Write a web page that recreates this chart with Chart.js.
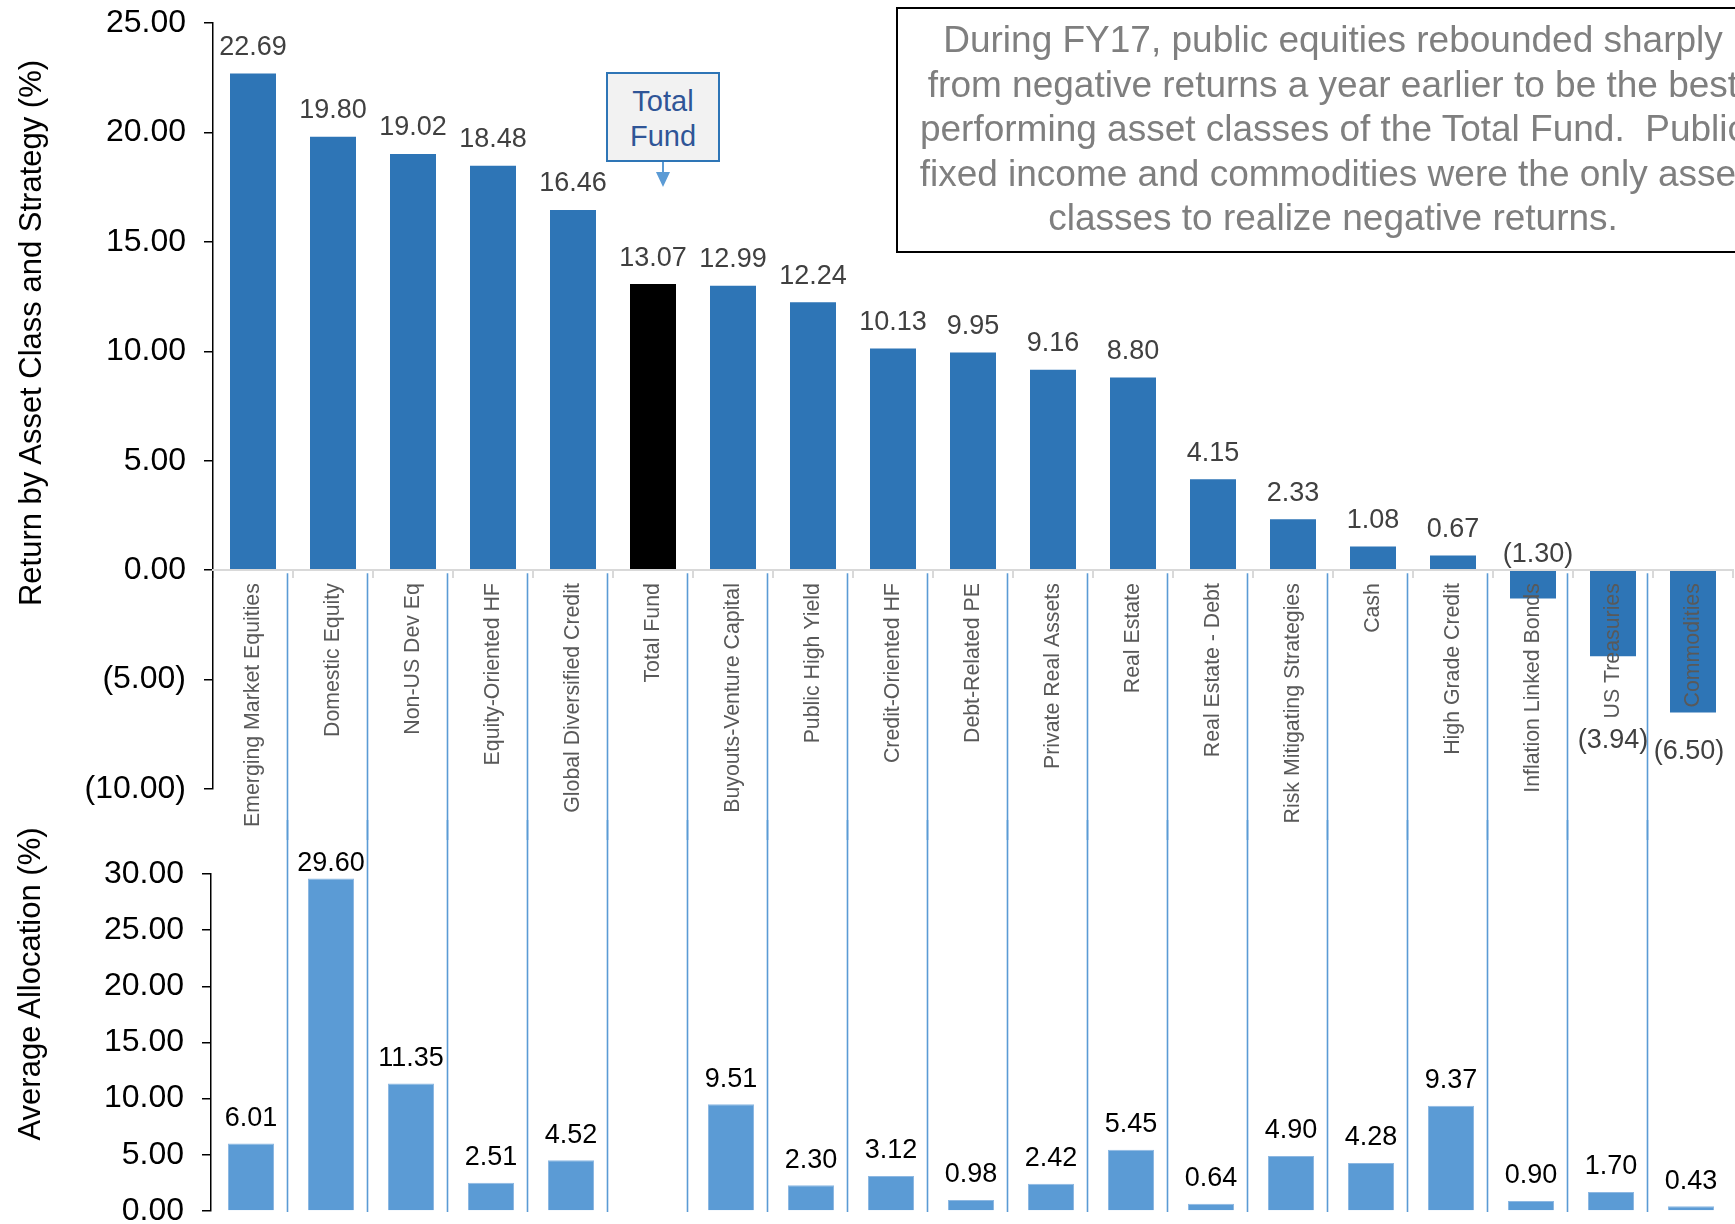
<!DOCTYPE html>
<html>
<head>
<meta charset="utf-8">
<script src="https://cdn.jsdelivr.net/npm/chart.js@4.4.1/dist/chart.umd.min.js"></script>
<style>
  html, body { margin: 0; padding: 0; background: #fff; }
  body { width: 1735px; height: 1224px; position: relative; overflow: hidden; font-family: 'Liberation Sans', Arial, sans-serif; }
  canvas { position: absolute; left: 0; }
  #return-chart { top: -30px; }
  #alloc-chart { top: 820px; }
  .axis-title { position: absolute; font-size: 31px; color: #000; white-space: nowrap; transform: translate(-50%, -50%) rotate(-90deg); }
  .note {
    position: absolute; left: 896px; top: 7px; width: 874px; height: 246px; box-sizing: border-box;
    border: 2.5px solid #000; color: #7f7f7f; font-size: 37px; line-height: 44.5px; text-align: center; padding-top: 9px; white-space: nowrap;
  }
  .callout {
    position: absolute; left: 606px; top: 72px; width: 114px; height: 90px; box-sizing: border-box;
    border: 2px solid #2e75b6; background: #f2f2f2; color: #2f5597; font-size: 29px; line-height: 34.5px; text-align: center; padding-top: 10px;
  }
  .stem { position: absolute; left: 662px; top: 162px; width: 2px; height: 11px; background: #5b9bd5; }
  .head { position: absolute; left: 655.5px; top: 172px; width: 0; height: 0; border-left: 7.5px solid transparent; border-right: 7.5px solid transparent; border-top: 15px solid #5b9bd5; }
</style>
</head>
<body>
<canvas id="return-chart" width="1735" height="870"></canvas>
<canvas id="alloc-chart" width="1735" height="440"></canvas>

<div class="axis-title" style="left:31px; top:333px;">Return by Asset Class and Strategy (%)</div>
<div class="axis-title" style="left:30px; top:984px;">Average Allocation (%)</div>

<div class="note">During FY17, public equities rebounded sharply<br>from negative returns a year earlier to be the best<br>performing asset classes of the Total Fund.&nbsp; Public<br>fixed income and commodities were the only asset<br>classes to realize negative returns.</div>

<div class="callout">Total<br>Fund</div>
<div class="stem"></div>
<div class="head"></div>

<script>
'use strict';

const categories = [
  'Emerging Market Equities', 'Domestic Equity', 'Non-US Dev Eq', 'Equity-Oriented HF',
  'Global Diversified Credit', 'Total Fund', 'Buyouts-Venture Capital', 'Public High Yield',
  'Credit-Oriented HF', 'Debt-Related PE', 'Private Real Assets', 'Real Estate',
  'Real Estate - Debt', 'Risk Mitigating Strategies', 'Cash', 'High Grade Credit',
  'Inflation Linked Bonds', 'US Treasuries', 'Commodities'
];

// return by asset class (%)
const returnPct = [22.69, 19.80, 19.02, 18.48, 16.46, 13.07, 12.99, 12.24, 10.13, 9.95,
  9.16, 8.80, 4.15, 2.33, 1.08, 0.67, -1.30, -3.94, -6.50];

// average allocation (%) - no bar for Total Fund
const allocationPct = [6.01, 29.60, 11.35, 2.51, 4.52, null, 9.51, 2.30, 3.12, 0.98,
  2.42, 5.45, 0.64, 4.90, 4.28, 9.37, 0.90, 1.70, 0.43];

const FONT = "'Liberation Sans', Arial, sans-serif";

function fmtPct(v) {
  if (v < 0) return '(' + Math.abs(v).toFixed(2) + ')';
  return v.toFixed(2);
}

// blue column separators between categories
function separatorPlugin(fromY, toY, shift) {
  return {
    id: 'separators',
    afterDatasetsDraw(chart) {
      const x = chart.scales.x;
      const ctx = chart.ctx;
      const y0 = fromY(chart), y1 = toY(chart);
      ctx.save();
      ctx.strokeStyle = '#5b9bd5';
      ctx.lineWidth = 1.6;
      for (let i = 0; i < categories.length - 1; i++) {
        const px = (x.getPixelForValue(i) + x.getPixelForValue(i + 1)) / 2 + shift;
        ctx.beginPath();
        ctx.moveTo(px, y0);
        ctx.lineTo(px, y1);
        ctx.stroke();
      }
      ctx.restore();
    },
  };
}

// value labels over bars
function valueLabelPlugin(color, offset, nudge) {
  return {
    id: 'valueLabels',
    afterDatasetsDraw(chart) {
      const ctx = chart.ctx;
      const meta = chart.getDatasetMeta(0);
      const data = chart.data.datasets[0].data;
      ctx.save();
      ctx.font = '27px ' + FONT;
      ctx.fillStyle = color;
      ctx.textAlign = 'center';
      ctx.textBaseline = 'middle';
      meta.data.forEach((bar, i) => {
        const v = data[i];
        if (v === null || v === undefined) return;
        let y = v < 0 ? bar.y + offset : Math.max(bar.y - offset, chart.chartArea.top - 10);
        let x = bar.x;
        if (nudge[i]) { x += nudge[i][0]; y += nudge[i][1]; }
        ctx.fillText(fmtPct(v), x, y);
      });
      ctx.restore();
    },
  };
}

new Chart(document.getElementById('return-chart'), {
  type: 'bar',
  data: {
    labels: categories,
    datasets: [{
      data: returnPct,
      backgroundColor: categories.map(c => c === 'Total Fund' ? '#000000' : '#2e75b6'),
      barPercentage: 0.575,
      categoryPercentage: 1,
    }],
  },
  options: {
    responsive: false,
    animation: false,
    layout: { padding: { left: 0, right: 2, top: 53, bottom: 51 } },
    plugins: { legend: { display: false }, tooltip: { enabled: false } },
    scales: {
      x: {
        position: { y: 0 },
        afterFit: (s) => { s.height = 0; },
        border: { display: true, color: '#d9d9d9', width: 2, z: 1 },
        grid: { drawOnChartArea: false, offset: true, tickLength: 7, color: '#d9d9d9', lineWidth: 2 },
        ticks: {
          z: 1, autoSkip: false, maxRotation: 90, minRotation: 90, padding: 6,
          color: '#595959', font: { size: 21.3, family: FONT },
        },
      },
      y: {
        min: -10, max: 25,
        afterFit: (s) => { s.width = 213; },
        border: { color: '#000', width: 1.5 },
        grid: { drawOnChartArea: false, tickLength: 9, color: '#000', lineWidth: 1.5 },
        ticks: {
          stepSize: 5, padding: 18, color: '#000',
          font: { size: 32, family: FONT },
          callback: (v) => fmtPct(v),
        },
      },
    },
  },
  plugins: [
    separatorPlugin(c => c.scales.y.getPixelForValue(0) + 3, c => c.height, -5.5),
    valueLabelPlugin('#404040', 26, { 16: [5, -70], 17: [0, 58], 18: [-4, 13] }),
  ],
});

new Chart(document.getElementById('alloc-chart'), {
  type: 'bar',
  data: {
    labels: categories,
    datasets: [{
      data: allocationPct,
      backgroundColor: '#5b9bd5',
      borderColor: '#8db8e2',
      borderWidth: 1,
      barPercentage: 0.575,
      categoryPercentage: 1,
    }],
  },
  options: {
    responsive: false,
    animation: false,
    layout: { padding: { left: 0, right: 4, top: 54, bottom: 49 } },
    plugins: { legend: { display: false }, tooltip: { enabled: false } },
    scales: {
      x: { display: false },
      y: {
        min: 0, max: 30,
        afterFit: (s) => { s.width = 211; },
        border: { color: '#000', width: 1.5 },
        grid: { drawOnChartArea: false, tickLength: 9, color: '#000', lineWidth: 1.5 },
        ticks: {
          stepSize: 5, padding: 18, color: '#000',
          font: { size: 32, family: FONT },
          callback: (v) => fmtPct(v),
        },
      },
    },
  },
  plugins: [
    separatorPlugin(() => 0, c => c.chartArea.bottom + 1, -3.5),
    valueLabelPlugin('#000', 25, {}),
  ],
});
</script>
</body>
</html>
